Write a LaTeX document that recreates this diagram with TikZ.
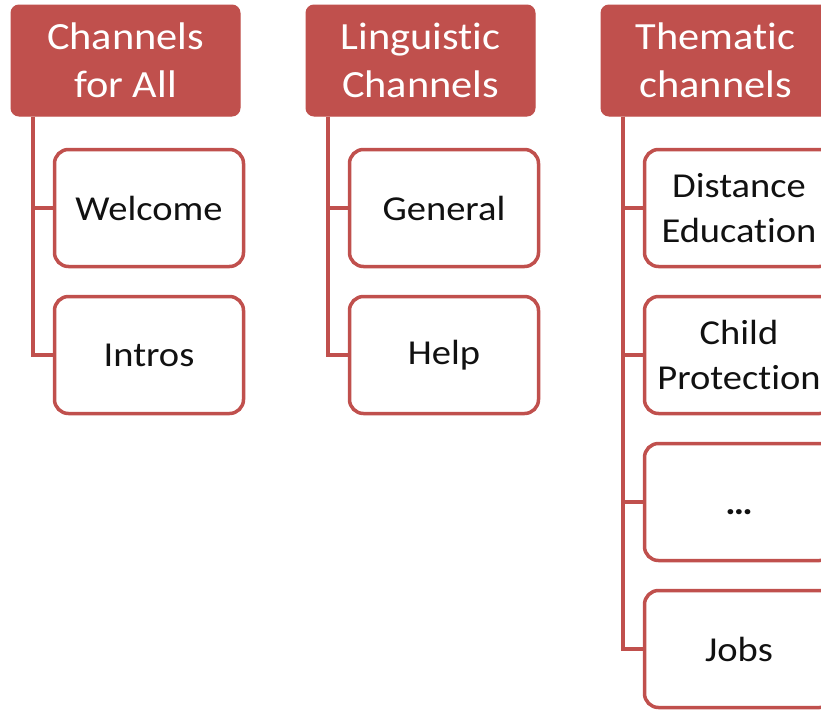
\documentclass[tikz,border=0pt]{standalone}
\usepackage{fontspec}
\setmainfont[FakeStretch=1.1,Ligatures={NoCommon}]{Carlito}
\definecolor{accred}{HTML}{C0504D}
\definecolor{txtdark}{HTML}{111111}
\tikzset{
  hdr/.style={draw=accred, fill=accred, line width=1pt, rounded corners=8pt,
    minimum width=229pt, minimum height=111pt, inner sep=0pt, align=center,
    text=white, font=\fontsize{38.5}{48}\selectfont},
  kid/.style={draw=accred, fill=white, line width=3.5pt, rounded corners=14pt,
    minimum width=189pt, minimum height=117pt, inner sep=0pt, align=center,
    text=txtdark, font=\fontsize{35}{45}\selectfont},
  conn/.style={draw=accred, line width=4pt, line join=miter}
}
\begin{document}
\begin{tikzpicture}[x=1pt,y=-1pt]
\useasboundingbox (0,0) rectangle (821,710);
\clip (0,0) rectangle (821,710);
% headers
\node[hdr] (h1) at (125.5,60.5) {Channels\\for All};
\node[hdr] (h2) at (420.5,60.5) {Linguistic\\Channels};
\node[hdr] (h3) at (715.5,60.5) {Thematic\\channels};
% children
\node[kid] (c11) at (149,208) {Welcome};
\node[kid] (c12) at (149,355) {Intros};
\node[kid] (c21) at (444,208) {General};
\node[kid] (c22) at (444,355) {Help};
\node[kid] (c31) at (739,208) {Distance\\Education};
\node[kid] (c32) at (739,355) {Child\\Protection};
\node[kid] (c33) at (739,502) {\vphantom{Ab}\textbf{…}};
\node[kid] (c34) at (739,649) {Jobs};
% connectors
\coordinate (t1) at ([xshift=22pt]h1.south west);
\coordinate (t2) at ([xshift=22pt]h2.south west);
\coordinate (t3) at ([xshift=22pt]h3.south west);
\draw[conn] (t1) |- (c11.west);
\draw[conn] (t1) |- (c12.west);
\draw[conn] (t2) |- (c21.west);
\draw[conn] (t2) |- (c22.west);
\draw[conn] (t3) |- (c31.west);
\draw[conn] (t3) |- (c32.west);
\draw[conn] (t3) |- (c33.west);
\draw[conn] (t3) |- (c34.west);
\end{tikzpicture}
\end{document}
